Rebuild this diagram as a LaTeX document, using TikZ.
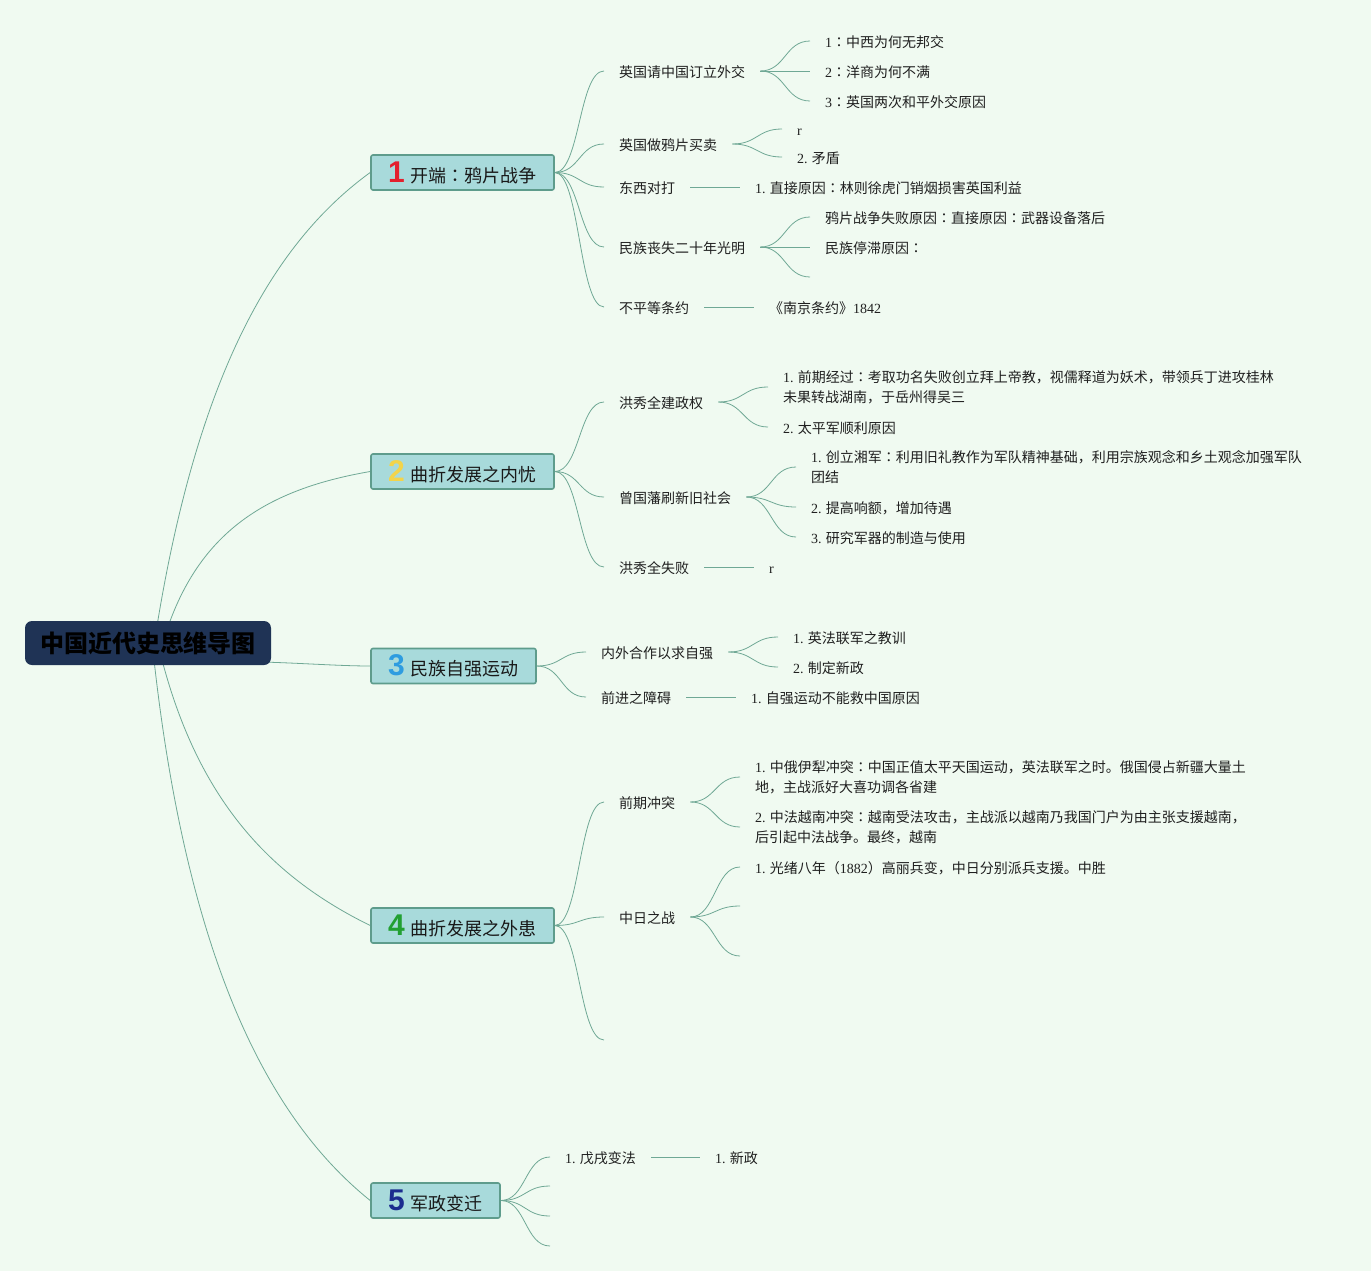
\documentclass[tikz,border=0pt]{standalone}
\usepackage{fontspec}
\setmainfont{Liberation Serif}
\newfontfamily\cjk{Noto Sans CJK SC}
\newfontfamily\cjktc{Noto Sans CJK TC}
\newfontfamily\numf{Liberation Sans}
\newcommand\sernum[1]{{\rmfamily #1}}
\newcommand\cc{{\cjktc ：}}
\definecolor{bgc}{HTML}{F0FAF1}
\definecolor{conn}{HTML}{6FA895}
\definecolor{boxfill}{HTML}{A8DADB}
\definecolor{boxline}{HTML}{5E9C8C}
\definecolor{rootfill}{HTML}{1F3355}
\definecolor{nA}{HTML}{E3202D}
\definecolor{nB}{HTML}{F3D44A}
\definecolor{nC}{HTML}{2E9CE0}
\definecolor{nD}{HTML}{22A032}
\definecolor{nE}{HTML}{1B2C8F}
\pgfdeclarelayer{bgl}
\pgfdeclarelayer{edges}
\pgfsetlayers{bgl,edges,main}
\newcommand\bnum[2]{{\numf\bfseries\fontsize{30}{30}\selectfont\color{#1}#2}\hspace{6pt}}
\newcommand\scurve[2]{\draw[conn] (#1) .. controls +(25,0) and +(-25,0) .. (#2);}
\begin{document}
\begin{tikzpicture}[x=1pt,y=-1pt,
  conn/.style={draw=conn,line width=0.8pt},
  rootbox/.style={rounded corners=7pt,fill=rootfill,minimum width=246pt,minimum height=44pt,inner sep=0pt,
     font=\cjk\bfseries\fontsize{24}{28}\selectfont,text=black},
  branchbox/.style={rounded corners=2pt,fill=boxfill,draw=boxline,line width=1.6pt,minimum height=35pt,inner sep=0pt,
     font=\cjk\fontsize{18}{20}\selectfont,text=black!90},
  txt/.style={anchor=west,inner sep=0pt,align=left,font=\cjk\fontsize{14}{20}\selectfont,text=black!88,
     yshift=-2.5pt,execute at begin node=\strut,execute at end node=\strut},
]
\begin{pgfonlayer}{bgl}
\fill[bgc] (0,0) rectangle (1371,1271);
\end{pgfonlayer}
\path[use as bounding box] (0,0) rectangle (1371,1271);

% root
\node[rootbox] (root) at (148,643) {中国近代史思维导图};

% branches
\node[branchbox,minimum width=183pt] (b1) at (462.5,172.5) {\bnum{nA}{1}开端\cc 鸦片战争};
\node[branchbox,minimum width=183pt] (b2) at (462.5,471.5) {\bnum{nB}{2}曲折发展之内忧};
\node[branchbox,minimum width=165pt] (b3) at (453.5,666) {\bnum{nC}{3}民族自强运动};
\node[branchbox,minimum width=183pt] (b4) at (462.5,925.5) {\bnum{nD}{4}曲折发展之外患};
\node[branchbox,minimum width=129pt] (b5) at (435.5,1200.5) {\bnum{nE}{5}军政变迁};

% branch 1
\node[txt] (s11) at (619,71) {英国请中国订立外交};
\node[txt] (s12) at (619,144) {英国做鸦片买卖};
\node[txt] (s13) at (619,187) {东西对打};
\node[txt] (s14) at (619,247) {民族丧失二十年光明};
\node[txt] (s15) at (619,307) {不平等条约};
\node[txt] (l111) at (825,41) {\sernum{1}\cc 中西为何无邦交};
\node[txt] (l112) at (825,71) {\sernum{2}\cc 洋商为何不满};
\node[txt] (l113) at (825,101) {\sernum{3}\cc 英国两次和平外交原因};
\node[txt] (l121) at (797,129) {\sernum{r}};
\node[txt] (l122) at (797,157) {\sernum{2.} 矛盾};
\node[txt] (l131) at (755,187) {\sernum{1.} 直接原因\cc 林则徐虎门销烟损害英国利益};
\node[txt] (l141) at (825,217) {鸦片战争失败原因\cc 直接原因\cc 武器设备落后};
\node[txt] (l142) at (825,247) {民族停滞原因\cc};
\coordinate (c143) at (810,277);
\node[txt] (l151) at (769,307) {《南京条约》\sernum{1842}};

% branch 2
\node[txt] (s21) at (619,402) {洪秀全建政权};
\node[txt] (s22) at (619,497) {曾国藩刷新旧社会};
\node[txt] (s23) at (619,567) {洪秀全失败};
\node[txt] (l211) at (783,387) {\sernum{1.} 前期经过\cc 考取功名失败创立拜上帝教，视儒释道为妖术，带领兵丁进攻桂林\\未果转战湖南，于岳州得吴三};
\node[txt] (l212) at (783,427) {\sernum{2.} 太平军顺利原因};
\node[txt] (l221) at (811,467) {\sernum{1.} 创立湘军\cc 利用旧礼教作为军队精神基础，利用宗族观念和乡土观念加强军队\\团结};
\node[txt] (l222) at (811,507) {\sernum{2.} 提高响额，增加待遇};
\node[txt] (l223) at (811,537) {\sernum{3.} 研究军器的制造与使用};
\node[txt] (l231) at (769,567) {\sernum{r}};

% branch 3
\node[txt] (s31) at (601,652) {内外合作以求自强};
\node[txt] (s32) at (601,697) {前进之障碍};
\node[txt] (l311) at (793,637) {\sernum{1.} 英法联军之教训};
\node[txt] (l312) at (793,667) {\sernum{2.} 制定新政};
\node[txt] (l321) at (751,697) {\sernum{1.} 自强运动不能救中国原因};

% branch 4
\node[txt] (s41) at (619,802) {前期冲突};
\node[txt] (s42) at (619,917) {中日之战};
\coordinate (c43) at (604,1040);
\node[txt] (l411) at (755,777) {\sernum{1.} 中俄伊犁冲突\cc 中国正值太平天国运动，英法联军之时。俄国侵占新疆大量土\\地，主战派好大喜功调各省建};
\node[txt] (l412) at (755,827) {\sernum{2.} 中法越南冲突\cc 越南受法攻击，主战派以越南乃我国门户为由主张支援越南，\\后引起中法战争。最终，越南};
\node[txt] (l421) at (755,867) {\sernum{1.} 光绪八年（\sernum{1882}）高丽兵变，中日分别派兵支援。中胜};
\coordinate (c422) at (740,906);
\coordinate (c423) at (740,956);

% branch 5
\node[txt] (s51) at (565,1157) {\sernum{1.} 戊戌变法};
\coordinate (c52) at (550,1186);
\coordinate (c53) at (550,1216);
\coordinate (c54) at (550,1246);
\node[txt] (l511) at (715,1157) {\sernum{1.} 新政};

\begin{pgfonlayer}{edges}
% root to branches
\draw[conn] ([xshift=3pt,yshift=-22pt]root.center) .. controls (189,400) and (262,251) .. (b1.west);
\draw[conn] ([xshift=9pt,yshift=-22pt]root.center) .. controls (186,540) and (257,491) .. (b2.west);
\draw[conn] ([xshift=-10pt,yshift=-19pt]root.east) .. controls (300,663) and (340,666) .. (b3.west);
\draw[conn] ([xshift=5pt,yshift=22pt]root.center) .. controls (186,784) and (259,871) .. (b4.west);
\draw[conn] ([xshift=2pt,yshift=22pt]root.center) .. controls (182,960) and (270,1120) .. (b5.west);

% branch 1
\scurve{b1.east}{[xshift=-15pt,yshift=2.5pt]s11.west}
\scurve{b1.east}{[xshift=-15pt,yshift=2.5pt]s12.west}
\scurve{b1.east}{[xshift=-15pt,yshift=2.5pt]s13.west}
\scurve{b1.east}{[xshift=-15pt,yshift=2.5pt]s14.west}
\scurve{b1.east}{[xshift=-15pt,yshift=2.5pt]s15.west}
\scurve{[xshift=15pt,yshift=2.5pt]s11.east}{[xshift=-15pt,yshift=2.5pt]l111.west}
\scurve{[xshift=15pt,yshift=2.5pt]s11.east}{[xshift=-15pt,yshift=2.5pt]l112.west}
\scurve{[xshift=15pt,yshift=2.5pt]s11.east}{[xshift=-15pt,yshift=2.5pt]l113.west}
\scurve{[xshift=15pt,yshift=2.5pt]s12.east}{[xshift=-15pt,yshift=2.5pt]l121.west}
\scurve{[xshift=15pt,yshift=2.5pt]s12.east}{[xshift=-15pt,yshift=2.5pt]l122.west}
\draw[conn] ([xshift=15pt,yshift=2.5pt]s13.east) -- ([xshift=-15pt,yshift=2.5pt]l131.west);
\scurve{[xshift=15pt,yshift=2.5pt]s14.east}{[xshift=-15pt,yshift=2.5pt]l141.west}
\scurve{[xshift=15pt,yshift=2.5pt]s14.east}{[xshift=-15pt,yshift=2.5pt]l142.west}
\scurve{[xshift=15pt,yshift=2.5pt]s14.east}{c143}
\draw[conn] ([xshift=15pt,yshift=2.5pt]s15.east) -- ([xshift=-15pt,yshift=2.5pt]l151.west);

% branch 2
\scurve{b2.east}{[xshift=-15pt,yshift=2.5pt]s21.west}
\scurve{b2.east}{[xshift=-15pt,yshift=2.5pt]s22.west}
\scurve{b2.east}{[xshift=-15pt,yshift=2.5pt]s23.west}
\scurve{[xshift=15pt,yshift=2.5pt]s21.east}{[xshift=-15pt,yshift=2.5pt]l211.west}
\scurve{[xshift=15pt,yshift=2.5pt]s21.east}{[xshift=-15pt,yshift=2.5pt]l212.west}
\scurve{[xshift=15pt,yshift=2.5pt]s22.east}{[xshift=-15pt,yshift=2.5pt]l221.west}
\scurve{[xshift=15pt,yshift=2.5pt]s22.east}{[xshift=-15pt,yshift=2.5pt]l222.west}
\scurve{[xshift=15pt,yshift=2.5pt]s22.east}{[xshift=-15pt,yshift=2.5pt]l223.west}
\draw[conn] ([xshift=15pt,yshift=2.5pt]s23.east) -- ([xshift=-15pt,yshift=2.5pt]l231.west);

% branch 3
\scurve{b3.east}{[xshift=-15pt,yshift=2.5pt]s31.west}
\scurve{b3.east}{[xshift=-15pt,yshift=2.5pt]s32.west}
\scurve{[xshift=15pt,yshift=2.5pt]s31.east}{[xshift=-15pt,yshift=2.5pt]l311.west}
\scurve{[xshift=15pt,yshift=2.5pt]s31.east}{[xshift=-15pt,yshift=2.5pt]l312.west}
\draw[conn] ([xshift=15pt,yshift=2.5pt]s32.east) -- ([xshift=-15pt,yshift=2.5pt]l321.west);

% branch 4
\scurve{b4.east}{[xshift=-15pt,yshift=2.5pt]s41.west}
\scurve{b4.east}{[xshift=-15pt,yshift=2.5pt]s42.west}
\scurve{b4.east}{c43}
\scurve{[xshift=15pt,yshift=2.5pt]s41.east}{[xshift=-15pt,yshift=2.5pt]l411.west}
\scurve{[xshift=15pt,yshift=2.5pt]s41.east}{[xshift=-15pt,yshift=2.5pt]l412.west}
\scurve{[xshift=15pt,yshift=2.5pt]s42.east}{[xshift=-15pt,yshift=2.5pt]l421.west}
\scurve{[xshift=15pt,yshift=2.5pt]s42.east}{c422}
\scurve{[xshift=15pt,yshift=2.5pt]s42.east}{c423}

% branch 5
\scurve{b5.east}{[xshift=-15pt,yshift=2.5pt]s51.west}
\scurve{b5.east}{c52}
\scurve{b5.east}{c53}
\scurve{b5.east}{c54}
\draw[conn] ([xshift=15pt,yshift=2.5pt]s51.east) -- ([xshift=-15pt,yshift=2.5pt]l511.west);
\end{pgfonlayer}
\end{tikzpicture}
\end{document}
